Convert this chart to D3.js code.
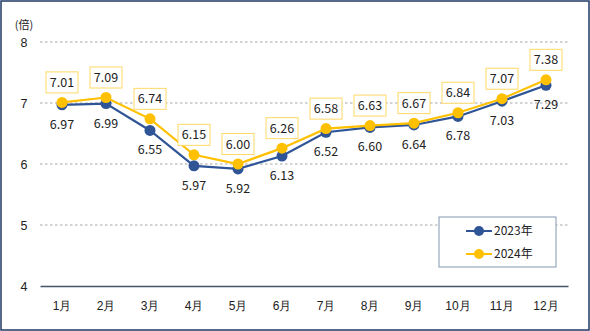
<!DOCTYPE html>
<html><head><meta charset="utf-8">
<script src="https://cdn.jsdelivr.net/npm/d3@7"></script>
<style>body{margin:0;background:#fff}svg{display:block;font-family:"Noto Sans CJK JP","Noto Sans",sans-serif}</style>
</head><body><svg id="c" width="590" height="331"></svg>
<script>
const months = ["1月","2月","3月","4月","5月","6月","7月","8月","9月","10月","11月","12月"];
const values2023 = [6.97,6.99,6.55,5.97,5.92,6.13,6.52,6.60,6.64,6.78,7.03,7.29];
const values2024 = [7.01,7.09,6.74,6.15,6.00,6.26,6.58,6.63,6.67,6.84,7.07,7.38];
const yTicks = [4,5,6,7,8];
const seriesNames = ["2023年","2024年"];
const colors = ["#2F5597","#FFC000"];

const svg = d3.select("#c");
svg.append("rect").attr("x",1).attr("y",1).attr("width",588).attr("height",329)
  .attr("fill","#fff").attr("stroke","#1F3864").attr("stroke-width",1.5);

const x = d3.scaleBand().domain(months).range([40,568]);
const y = d3.scaleLinear().domain([4,8]).range([286,42]);

// gridlines
svg.append("g").selectAll("line").data(yTicks.filter(t=>t>4)).join("line")
  .attr("x1",40).attr("x2",568).attr("y1",d=>y(d)).attr("y2",d=>y(d))
  .attr("stroke","#A6A6A6").attr("stroke-dasharray","2.5,2.5").attr("stroke-width",1);

// y axis labels
const yAxis = d3.axisLeft(y).tickValues(yTicks).tickSize(0).tickPadding(0).tickFormat(d3.format("d"));
const ya = svg.append("g").attr("transform","translate(30,0)").call(yAxis);
ya.select(".domain").remove();
ya.selectAll("text").attr("font-size",12.5).attr("fill","#222").attr("text-anchor","middle").attr("x",-6);

svg.append("text").attr("x",24).attr("y",29).attr("text-anchor","middle").attr("font-size",11).attr("fill","#222").text("(倍)");

// x axis
const xAxis = d3.axisBottom(x).tickSize(0).tickPadding(15);
const xa = svg.append("g").attr("transform","translate(0,286)").call(xAxis);
xa.select(".domain").attr("stroke","#44546A").attr("stroke-width",1.5);
xa.selectAll("text").attr("font-size",12).attr("fill","#222");

const cx = d=>x(d)+x.bandwidth()/2;
const line = d3.line().x((d,i)=>cx(months[i])).y(d=>y(d));

[values2023,values2024].forEach((vals,si)=>{
  const g = svg.append("g");
  g.append("path").datum(vals).attr("d",line).attr("fill","none").attr("stroke",colors[si]).attr("stroke-width",2.2);
  g.selectAll("circle").data(vals).join("circle")
    .attr("cx",(d,i)=>cx(months[i])).attr("cy",d=>y(d)).attr("r",5.5).attr("fill",colors[si]);
});

// 2023 labels below
svg.append("g").selectAll("text").data(values2023).join("text")
  .attr("x",(d,i)=>cx(months[i])).attr("y",d=>y(d)+24)
  .attr("text-anchor","middle").attr("font-size",12.5).attr("fill","#222")
  .text(d=>d.toFixed(2));

// 2024 labels above in boxes
const lg = svg.append("g").selectAll("g").data(values2024).join("g")
  .attr("transform",(d,i)=>`translate(${cx(months[i])},${y(d)-20})`);
lg.append("rect").attr("x",-16).attr("y",-10.5).attr("width",32).attr("height",21)
  .attr("fill","#fff").attr("stroke","#FFD966").attr("stroke-width",1);
lg.append("text").attr("y",4.5).attr("text-anchor","middle").attr("font-size",12.5).attr("fill","#222")
  .text(d=>d.toFixed(2));

// legend
const leg = svg.append("g");
leg.append("rect").attr("x",439).attr("y",217).attr("width",117).attr("height",50)
  .attr("fill","#fff").attr("stroke","#8497B0").attr("stroke-width",1);
seriesNames.forEach((n,i)=>{
  const yy = 231 + i*23;
  leg.append("line").attr("x1",466).attr("x2",492).attr("y1",yy).attr("y2",yy).attr("stroke",colors[i]).attr("stroke-width",2);
  leg.append("circle").attr("cx",479).attr("cy",yy).attr("r",5).attr("fill",colors[i]);
  leg.append("text").attr("x",494).attr("y",yy+4).attr("font-size",12).attr("fill","#222").text(n);
});
</script></body></html>
